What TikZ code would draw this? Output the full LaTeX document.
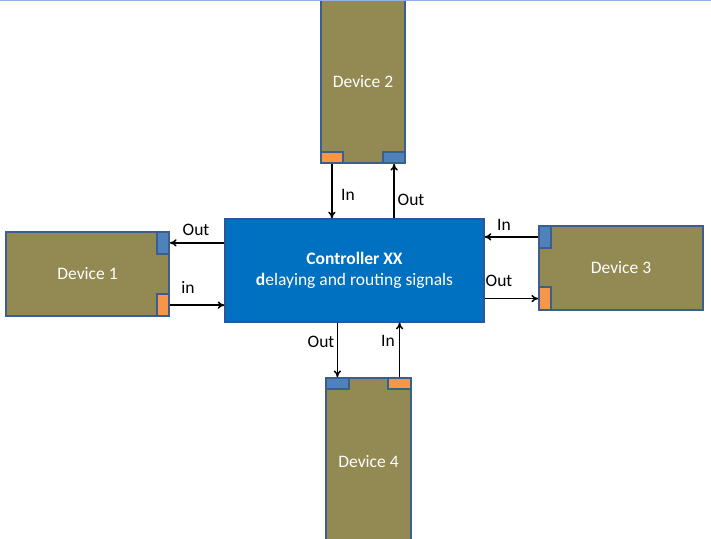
\documentclass[tikz,border=0pt]{standalone}
\usepackage{fontspec}
\setmainfont{Carlito}
\usetikzlibrary{arrows.meta,calc}
\definecolor{devF}{HTML}{938953}
\definecolor{devD}{HTML}{3A5F8E}
\definecolor{ctlF}{HTML}{0070C0}
\definecolor{ctlD}{HTML}{2F5597}
\definecolor{prtO}{HTML}{F79646}
\definecolor{prtB}{HTML}{4F81BD}
\definecolor{topl}{HTML}{8EB4E3}
\tikzset{
  device/.style={draw=devD, fill=devF, line width=1.6pt, text=white, font=\lab},
  ctrl/.style={draw=ctlD, fill=ctlF, line width=1.2pt, text=white, align=center, font=\lab},
  portO/.style={draw=devD, fill=prtO, line width=1.4pt, inner sep=0pt},
  portB/.style={draw=devD, fill=prtB, line width=1.4pt, inner sep=0pt},
  sig/.style={-{To[length=2.4mm,width=2.6mm]}, line width=1.5pt},
  slab/.style={font=\lab},
}
\newcommand{\lab}{\fontsize{17.5}{21}\selectfont}

\begin{document}
\begin{tikzpicture}[x=1pt,y=1pt]
\useasboundingbox (0,0) rectangle (711,538);
\clip (0,0) rectangle (711,538);

% ============ controller ====================================================
\node[ctrl, minimum width=259pt, minimum height=103pt] (ctl) at (354.5,267.5)
  {\textbf{Controller XX}\\\textbf{d}elaying and routing signals};

% ============ devices =======================================================
\node[device, minimum width=84pt, minimum height=163pt] (dev2) at (363,456.5) {Device 2};
\node[device, minimum width=163pt, minimum height=84pt] (dev1) at (87.5,264) {Device 1};
\node[device, minimum width=164pt, minimum height=84pt] (dev3) at (621,270) {Device 3};
\node[device, minimum width=85pt, minimum height=167pt] (dev4) at (368.5,76.5) {Device 4};

% ports
\node[portO, minimum width=22pt, minimum height=11pt, anchor=south west] (p2or) at (dev2.south west) {};
\node[portB, minimum width=22pt, minimum height=11pt, anchor=south east] (p2bl) at (dev2.south east) {};
\node[portB, minimum width=12pt, minimum height=22pt, anchor=north east] (p1bl) at (dev1.north east) {};
\node[portO, minimum width=12pt, minimum height=22pt, anchor=south east] (p1or) at (dev1.south east) {};
\node[portB, minimum width=12pt, minimum height=22pt, anchor=north west] (p3bl) at (dev3.north west) {};
\node[portO, minimum width=12pt, minimum height=23pt, anchor=south west] (p3or) at (dev3.south west) {};
\node[portB, minimum width=23pt, minimum height=11pt, anchor=north west] (p4bl) at (dev4.north west) {};
\node[portO, minimum width=23pt, minimum height=11pt, anchor=north east] (p4or) at (dev4.north east) {};

% ============ signals =======================================================
\draw[sig] (p2or.south) -- (p2or.south |- ctl.north);
\draw[sig] (p2bl.south |- ctl.north) -- (p2bl.south);
\draw[sig] (ctl.west |- p1bl.east) -- (p1bl.east);
\draw[sig] (p1or.east) -- (p1or.east -| ctl.west);
\draw[sig] (p3bl.west) -- (p3bl.west -| ctl.east);
\draw[sig] (ctl.east |- p3or.west) -- (p3or.west);
\draw[sig] (p4bl.north |- ctl.south) -- (p4bl.north);
\draw[sig] (p4or.north) -- (p4or.north |- ctl.south);

% labels
\node[slab] (l2in)  at (348,343) {In};
\node[slab] (l2out) at (411,338) {Out};
\node[slab] (l1out) at (196,308) {Out};
\node[slab] (l1in)  at (188,251) {in};
\node[slab] (l3in)  at (504,313) {In};
\node[slab] (l3out) at (499,257) {Out};
\node[slab] (l4out) at (321,196) {Out};
\node[slab] (l4in)  at (388,197) {In};

% top edge
\draw[topl, line width=1.2pt] (0,537.6) -- (711,537.6);

\end{tikzpicture}
\end{document}
